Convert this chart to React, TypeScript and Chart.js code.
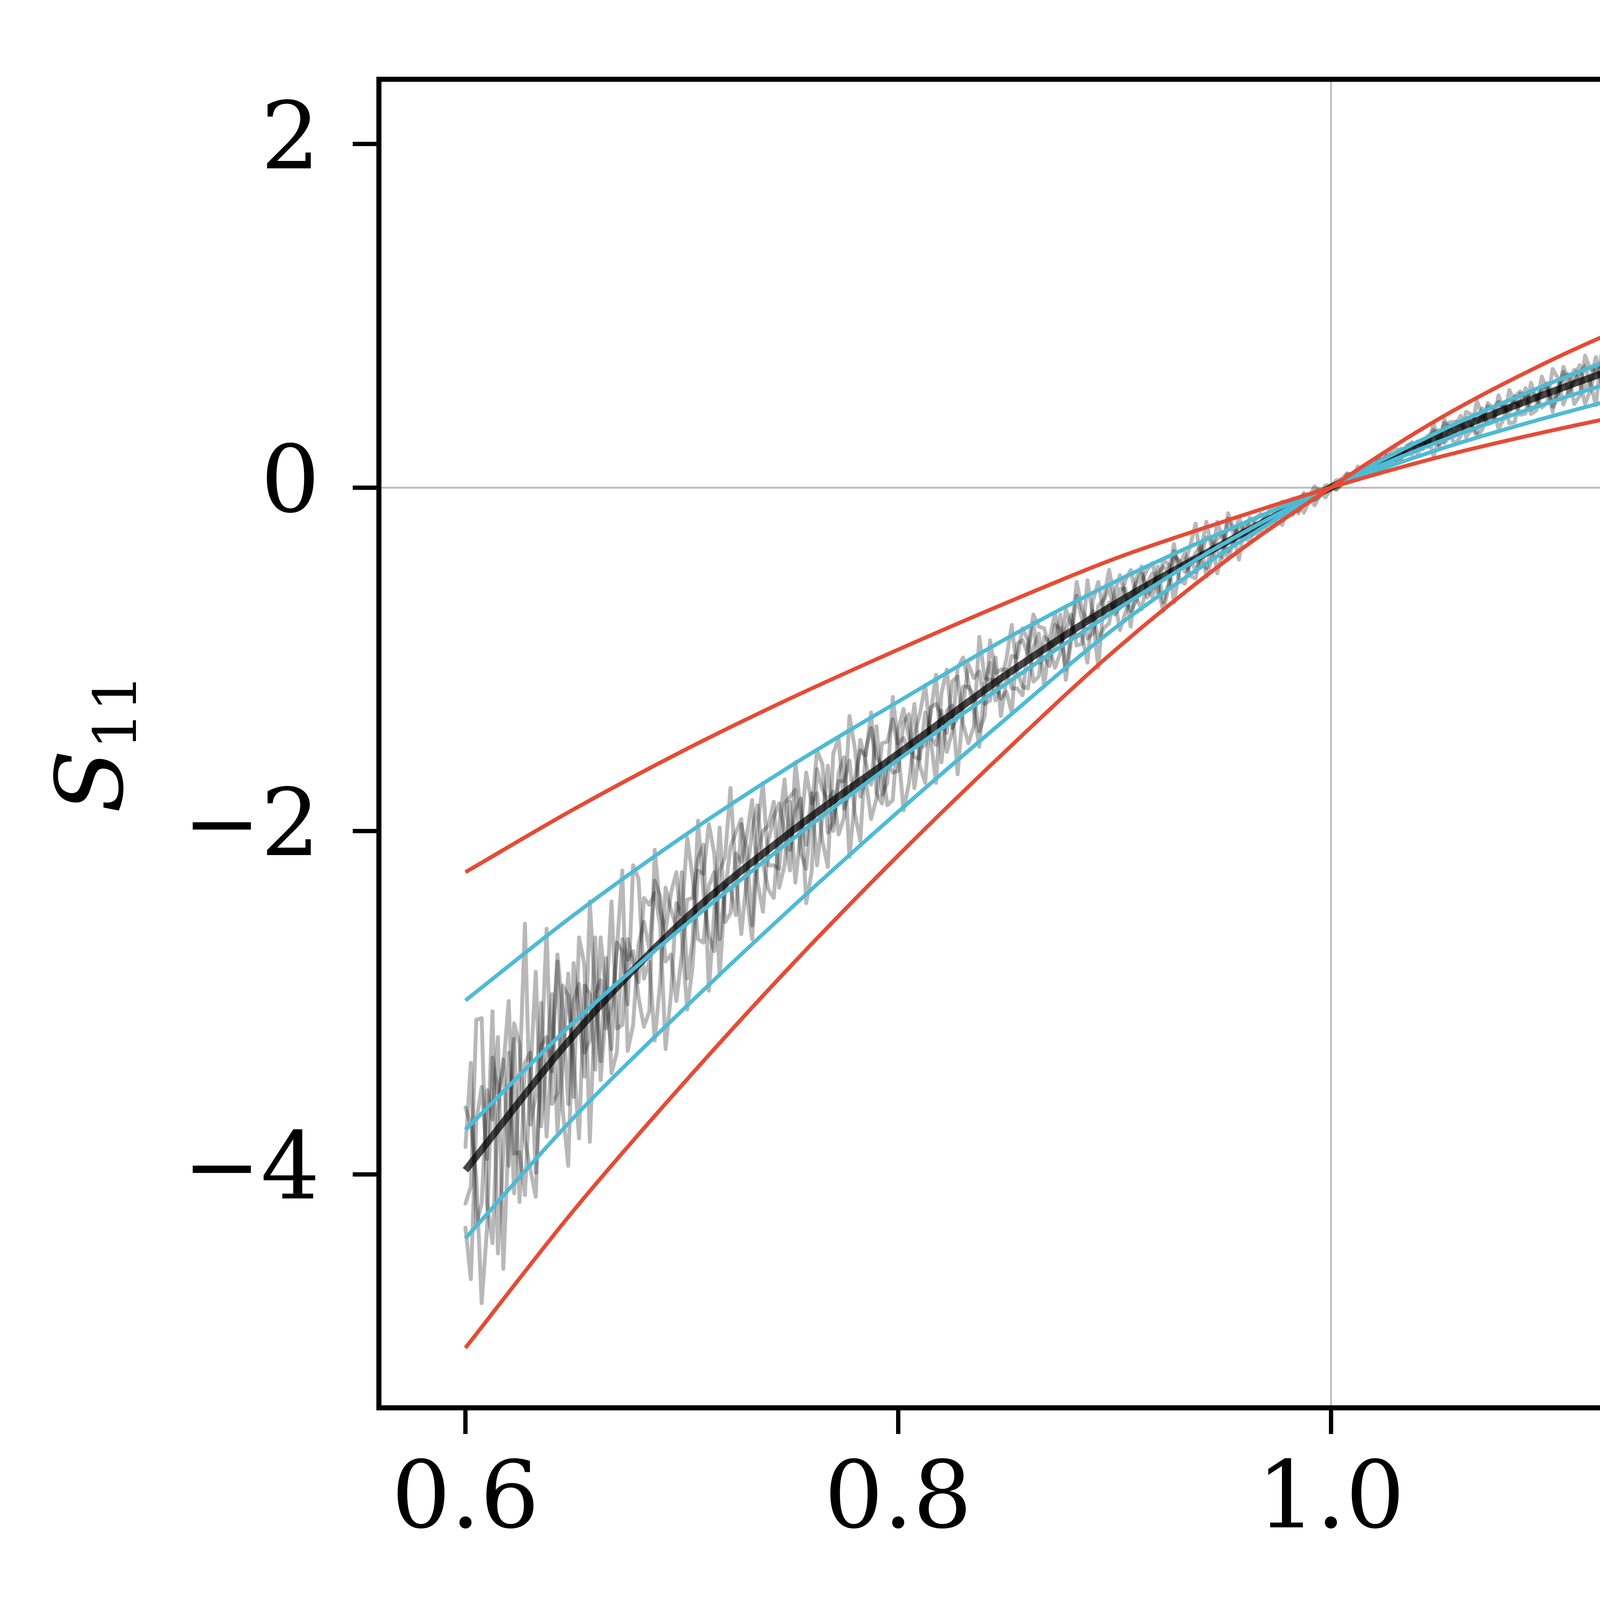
import React, { useEffect, useRef } from "react";
import { Chart, registerables } from "chart.js";

Chart.register(...registerables);

const W = 5975;
const H = 4458;

// Stretch ratio grid of the model curves
const LAMBDA_FIT = [0.6, 0.65, 0.7, 0.75, 0.8, 0.85, 0.9, 0.95, 1.0, 1.05, 1.1, 1.15, 1.2, 1.25, 1.3, 1.35, 1.4];

// Model curves
const RED_STIFF = [-5.01, -4.21, -3.481, -2.791, -2.143, -1.531, -0.95, -0.44, 0, 0.4, 0.73, 1.01, 1.26, 1.48, 1.68, 1.86, 2.027];
const RED_SOFT = [-2.24, -1.874, -1.537, -1.229, -0.944, -0.672, -0.415, -0.2, 0, 0.177, 0.326, 0.456, 0.567, 0.667, 0.759, 0.848, 0.93];
const CYAN_SOFT = [-2.987, -2.49, -2.037, -1.624, -1.247, -0.88, -0.55, -0.26, 0, 0.222, 0.408, 0.572, 0.712, 0.837, 0.952, 1.064, 1.167];
const CYAN_MID = [-3.739, -3.115, -2.565, -2.059, -1.585, -1.142, -0.72, -0.33, 0, 0.267, 0.491, 0.687, 0.856, 1.006, 1.145, 1.28, 1.403];
const CYAN_STIFF = [-4.372, -3.67, -3.047, -2.455, -1.888, -1.345, -0.82, -0.38, 0, 0.326, 0.6, 0.84, 1.046, 1.23, 1.399, 1.564, 1.715];
const MEAN_S11 = [-3.975, -3.19, -2.53, -2.01, -1.55, -1.09, -0.68, -0.33, 0, 0.298, 0.548, 0.767, 0.955, 1.123, 1.278, 1.428, 1.566];

// Noisy samples: stretch ratios 0.6000, 0.6050 ... 1.4000 and 0.6025, 0.6075 ... 1.3975
const LAMBDA_NOISE = Array.from({ length: 161 }, (_, i) => Math.round(6000 + i * 50) / 10000);
const LAMBDA_NOISE_MID = Array.from({ length: 160 }, (_, i) => Math.round(6025 + i * 50) / 10000);

const NOISE_A = [
  -3.84, -4.29, -3.51, -3.2, -3.75, -4.16, -3.29, -3.36, -3.59, -2.9,
  -3.33, -2.9, -3.39, -2.96, -2.65, -3.01, -2.28, -2.76, -2.88, -2.46,
  -2.24, -2.64, -2.36, -2.7, -2.15, -2.26, -2.28, -1.85, -2.34, -1.97,
  -2.11, -1.81, -2.24, -1.76, -1.77, -1.92, -1.52, -1.7, -1.81, -1.48,
  -1.52, -1.72, -1.32, -1.45, -1.3, -1.42, -0.99, -1.3, -1.14, -1.24,
  -1.0, -1.07, -1.17, -0.85, -0.88, -0.92, -0.74, -0.91, -0.75, -0.66,
  -0.74, -0.54, -0.64, -0.56, -0.62, -0.45, -0.48, -0.34, -0.44, -0.35,
  -0.41, -0.27, -0.225, -0.256, -0.188, -0.174, -0.088, -0.137, -0.058, -0.042,
  0.005, 0.045, 0.055, 0.075, 0.165, 0.157, 0.157, 0.234, 0.194, 0.303,
  0.29, 0.344, 0.418, 0.336, 0.413, 0.398, 0.496, 0.381, 0.53, 0.534,
  0.493, 0.636, 0.57, 0.665, 0.603, 0.769, 0.605, 0.704, 0.774, 0.69,
  0.851, 0.766, 0.834, 0.727, 0.924, 0.823, 1.058, 0.828, 0.943, 0.921,
  1.006, 0.87, 1.117, 0.947, 1.032, 1.117, 0.905, 1.121, 1.062, 1.211,
  1.047, 1.158, 1.295, 1.07, 1.256, 0.991, 1.257, 1.312, 1.182, 1.439,
  1.234, 1.326, 1.165, 1.433, 1.327, 1.422, 1.265, 1.659, 1.341, 1.436,
  1.578, 1.255, 1.519, 1.445, 1.597, 1.36, 1.732, 1.434, 1.591, 1.318,
  1.67,
];
const NOISE_E = [
  -3.35, -4.17, -3.68, -4.55, -3.21, -3.35, -3.99, -2.57, -3.53, -2.96,
  -3.79, -2.95, -2.62, -3.27, -2.7, -2.2, -2.86, -3.22, -2.33, -2.56,
  -2.86, -1.94, -2.61, -2.23, -1.75, -2.6, -1.99, -2.19, -2.39, -1.7,
  -1.88, -2.42, -1.64, -1.82, -2.02, -1.33, -1.8, -1.93, -1.49, -1.35,
  -1.88, -1.44, -1.15, -1.5, -1.54, -1.05, -1.14, -1.51, -1.02, -1.13,
  -0.8, -1.16, -0.93, -1.16, -0.73, -0.83, -0.92, -0.54, -1.05, -0.58,
  -0.7, -0.48, -0.71, -0.5, -0.42, -0.67, -0.44, -0.21, -0.47, -0.37,
  -0.18, -0.42, -0.214, -0.197, -0.224, -0.082, -0.134, -0.042, -0.104, -0.007,
  0.043, 0.029, 0.123, 0.069, 0.139, 0.19, 0.175, 0.264, 0.247, 0.18,
  0.376, 0.363, 0.292, 0.506, 0.382, 0.452, 0.373, 0.547, 0.551, 0.466,
  0.69, 0.483, 0.616, 0.708, 0.48, 0.722, 0.804, 0.675, 0.646, 0.965,
  0.751, 0.888, 0.647, 0.965, 0.893, 0.795, 1.138, 0.767, 0.98, 0.826,
  1.144, 0.936, 0.773, 1.105, 1.197, 0.914, 1.095, 1.292, 0.918, 1.2,
  1.012, 1.419, 1.163, 0.94, 1.33, 1.175, 1.446, 1.07, 1.358, 1.651,
  1.191, 1.054, 1.487, 1.388, 1.194, 1.646, 1.072, 1.467, 1.615, 1.295,
  1.582, 1.218, 1.841, 1.414, 1.302, 1.756, 1.539, 1.217, 1.714, 1.769,
];

const NOISE_B = [
  -4.31, -3.69, -3.91, -4.46, -3.29, -3.44, -3.71, -3.0, -3.26, -3.63,
  -2.99, -3.29, -2.62, -3.03, -3.15, -2.63, -2.88, -2.43, -2.55, -2.95,
  -2.49, -2.27, -2.65, -2.24, -2.36, -2.01, -2.37, -2.14, -1.97, -2.33,
  -1.83, -2.0, -1.84, -2.06, -1.55, -1.87, -1.69, -1.56, -1.78, -1.6,
  -1.65, -1.32, -1.52, -1.32, -1.6, -1.27, -1.28, -1.11, -1.26, -0.99,
  -1.12, -0.99, -0.89, -1.1, -0.9, -0.74, -0.89, -0.77, -0.85, -0.65,
  -0.65, -0.73, -0.56, -0.59, -0.46, -0.56, -0.455, -0.515, -0.36, -0.36,
  -0.265, -0.33, -0.264, -0.193, -0.237, -0.142, -0.144, -0.067, -0.077, -0.012,
  -0.005, 0.016, 0.074, 0.099, 0.084, 0.172, 0.229, 0.198, 0.248, 0.237,
  0.334, 0.3, 0.298, 0.424, 0.405, 0.454, 0.401, 0.496, 0.58, 0.479,
  0.563, 0.546, 0.66, 0.533, 0.687, 0.649, 0.719, 0.782, 0.606, 0.781,
  0.711, 0.857, 0.799, 0.874, 0.748, 0.991, 0.85, 0.916, 0.839, 1.009,
  0.93, 1.091, 0.913, 1.049, 1.108, 0.913, 1.086, 1.016, 1.204, 1.087,
  1.19, 1.016, 1.165, 1.26, 1.116, 1.381, 1.117, 1.272, 1.204, 1.329,
  1.399, 1.205, 1.363, 1.147, 1.373, 1.503, 1.345, 1.257, 1.49, 1.356,
  1.478, 1.567, 1.306, 1.558, 1.197, 1.522, 1.433, 1.707, 1.422, 1.695,
  1.514,
];
const NOISE_F = [
  -4.61, -3.49, -3.05, -3.87, -4.11, -2.54, -3.54, -3.78, -2.76, -3.95,
  -2.89, -3.22, -3.45, -2.41, -3.13, -2.77, -2.39, -2.36, -3.27, -2.42,
  -2.04, -2.63, -2.32, -2.84, -2.09, -1.93, -2.63, -2.0, -1.83, -2.2,
  -2.3, -1.66, -1.78, -2.21, -1.46, -1.78, -1.53, -1.31, -1.84, -1.66,
  -1.37, -1.75, -1.5, -1.09, -1.3, -1.67, -1.03, -1.07, -1.24, -1.33,
  -0.98, -0.82, -1.13, -0.87, -0.93, -1.12, -0.63, -0.88, -0.69, -0.48,
  -0.83, -0.63, -0.5, -0.64, -0.67, -0.37, -0.38, -0.53, -0.2, -0.3,
  -0.37, -0.17, -0.324, -0.152, -0.169, -0.182, -0.064, -0.147, -0.024, -0.027,
  -0.014, 0.065, 0.066, 0.141, 0.112, 0.211, 0.208, 0.192, 0.28, 0.317,
  0.259, 0.253, 0.441, 0.389, 0.473, 0.342, 0.568, 0.475, 0.454, 0.646,
  0.52, 0.643, 0.486, 0.768, 0.68, 0.592, 0.644, 0.845, 0.806, 0.575,
  0.907, 0.68, 0.881, 0.861, 0.659, 1.029, 0.8, 0.962, 1.071, 0.796,
  0.874, 1.116, 1.193, 0.85, 1.032, 1.154, 0.81, 1.157, 1.248, 1.047,
  1.335, 0.994, 1.078, 1.433, 0.99, 1.311, 1.242, 1.104, 1.545, 1.062,
  1.438, 1.358, 1.05, 1.521, 1.441, 1.19, 1.414, 1.638, 1.121, 1.547,
  1.351, 1.743, 1.295, 1.666, 1.827, 1.252, 1.455, 1.679, 1.336, 1.643,
];

const NOISE_C = [
  -3.61, -4.02, -4.31, -3.53, -2.99, -3.87, -3.43, -3.72, -2.95, -3.35,
  -3.55, -2.78, -2.95, -3.15, -2.69, -3.28, -2.66, -2.69, -2.38, -2.72,
  -2.72, -2.39, -2.08, -2.47, -2.53, -2.13, -2.03, -2.3, -2.06, -1.84,
  -2.23, -1.89, -1.78, -1.92, -2.0, -1.57, -1.81, -1.6, -1.39, -1.72,
  -1.49, -1.53, -1.62, -1.28, -1.33, -1.13, -1.38, -1.39, -1.11, -1.12,
  -1.19, -0.91, -0.97, -1.02, -1.04, -0.82, -0.85, -0.71, -0.72, -0.82,
  -0.615, -0.63, -0.66, -0.48, -0.57, -0.58, -0.425, -0.45, -0.34, -0.415,
  -0.3, -0.305, -0.306, -0.214, -0.157, -0.195, -0.13, -0.151, -0.053, -0.029,
  -0.009, 0.049, 0.065, 0.107, 0.102, 0.112, 0.199, 0.243, 0.254, 0.246,
  0.25, 0.38, 0.362, 0.356, 0.337, 0.462, 0.471, 0.531, 0.43, 0.509,
  0.588, 0.581, 0.534, 0.713, 0.621, 0.607, 0.755, 0.674, 0.753, 0.816,
  0.676, 0.829, 0.757, 0.916, 0.852, 0.783, 0.866, 1.02, 0.871, 0.969,
  0.862, 0.998, 0.955, 1.108, 0.904, 1.1, 1.152, 0.988, 1.109, 0.992,
  1.266, 1.139, 1.075, 1.23, 1.036, 1.251, 1.347, 1.162, 1.347, 1.131,
  1.311, 1.447, 1.242, 1.367, 1.465, 1.158, 1.437, 1.349, 1.513, 1.264,
  1.378, 1.555, 1.494, 1.32, 1.647, 1.56, 1.251, 1.616, 1.682, 1.487,
  1.605,
];
const NOISE_G = [
  -3.71, -4.75, -3.32, -3.38, -3.88, -4.12, -2.82, -3.33, -3.75, -2.83,
  -2.62, -3.81, -2.87, -3.02, -2.23, -3.13, -2.53, -2.29, -2.76, -2.99,
  -2.4, -2.16, -2.93, -1.98, -2.48, -2.18, -1.82, -2.47, -1.92, -2.01,
  -1.6, -2.08, -2.2, -1.62, -1.66, -2.15, -1.47, -1.73, -1.79, -1.22,
  -1.46, -1.26, -1.72, -1.26, -1.43, -1.1, -1.49, -0.87, -1.12, -1.23,
  -1.31, -0.89, -0.79, -0.99, -0.8, -1.06, -0.55, -0.78, -0.89, -0.79,
  -0.51, -0.72, -0.55, -0.44, -0.72, -0.4, -0.49, -0.38, -0.52, -0.2,
  -0.42, -0.22, -0.174, -0.242, -0.174, -0.217, -0.069, -0.062, 0.006, -0.057,
  0.007, 0.083, 0.045, 0.126, 0.169, 0.154, 0.16, 0.252, 0.262, 0.375,
  0.272, 0.383, 0.35, 0.298, 0.492, 0.498, 0.438, 0.423, 0.61, 0.566,
  0.44, 0.673, 0.646, 0.568, 0.76, 0.532, 0.694, 0.795, 0.866, 0.692,
  0.855, 0.641, 0.998, 0.731, 0.971, 0.912, 0.761, 0.858, 1.136, 0.976,
  0.769, 1.056, 1.118, 1.195, 0.897, 0.989, 1.215, 0.887, 1.143, 1.37,
  1.097, 0.96, 1.384, 1.246, 1.347, 0.937, 1.327, 1.427, 1.171, 1.1,
  1.514, 1.415, 1.259, 1.103, 1.669, 1.361, 1.224, 1.581, 1.501, 1.127,
  1.666, 1.491, 1.253, 1.75, 1.365, 1.588, 1.833, 1.343, 1.504, 1.748,
];

const NOISE_D = [
  -4.17, -3.1, -4.17, -3.63, -3.95, -3.24, -3.97, -3.25, -3.4, -3.04,
  -2.77, -3.43, -2.98, -2.74, -3.29, -2.75, -2.97, -3.05, -2.46, -2.36,
  -2.61, -2.79, -2.25, -2.13, -2.31, -2.49, -2.1, -1.98, -2.2, -2.22,
  -1.8, -2.13, -1.89, -1.61, -1.95, -1.71, -1.9, -1.53, -1.57, -1.85,
  -1.41, -1.46, -1.58, -1.46, -1.2, -1.4, -1.16, -1.21, -1.33, -1.08,
  -1.06, -1.17, -0.92, -0.81, -0.94, -0.96, -0.8, -0.86, -0.66, -0.74,
  -0.71, -0.59, -0.53, -0.64, -0.5, -0.49, -0.54, -0.41, -0.4, -0.305,
  -0.36, -0.24, -0.243, -0.27, -0.167, -0.114, -0.148, -0.091, -0.05, -0.05,
  0.011, 0.025, 0.079, 0.081, 0.129, 0.193, 0.154, 0.201, 0.269, 0.285,
  0.242, 0.332, 0.374, 0.364, 0.461, 0.382, 0.441, 0.526, 0.52, 0.449,
  0.608, 0.531, 0.624, 0.617, 0.567, 0.703, 0.701, 0.62, 0.802, 0.788,
  0.732, 0.71, 0.904, 0.839, 0.796, 0.903, 0.762, 0.972, 1.023, 0.873,
  1.04, 0.989, 0.93, 0.896, 1.159, 1.023, 1.095, 1.187, 0.986, 1.163,
  0.99, 1.234, 1.205, 1.11, 1.296, 1.211, 1.097, 1.262, 1.149, 1.417,
  1.212, 1.161, 1.44, 1.411, 1.235, 1.365, 1.541, 1.337, 1.283, 1.517,
  1.328, 1.517, 1.631, 1.458, 1.547, 1.71, 1.446, 1.356, 1.565, 1.643,
  1.41,
];
const NOISE_H = [
  -4.07, -3.09, -4.4, -3.33, -3.12, -3.8, -4.13, -3.2, -2.72, -3.59,
  -3.07, -2.41, -3.34, -3.41, -2.63, -2.7, -3.14, -2.11, -2.58, -2.24,
  -3.04, -2.23, -1.96, -2.63, -2.34, -1.96, -2.55, -1.72, -2.2, -1.84,
  -1.76, -2.22, -1.53, -2.01, -1.71, -1.59, -2.06, -1.4, -1.62, -1.82,
  -1.29, -1.57, -1.31, -1.72, -1.06, -1.34, -1.16, -1.42, -0.89, -1.06,
  -1.17, -1.21, -0.74, -0.82, -1.05, -0.71, -0.87, -1.02, -0.55, -0.67,
  -0.59, -0.81, -0.46, -0.58, -0.46, -0.33, -0.56, -0.49, -0.29, -0.5,
  -0.15, -0.27, -0.279, -0.272, -0.114, -0.127, -0.159, -0.032, -0.074, 0.013,
  -0.008, 0.077, 0.087, 0.066, 0.175, 0.148, 0.226, 0.234, 0.223, 0.336,
  0.396, 0.324, 0.402, 0.318, 0.369, 0.537, 0.464, 0.56, 0.428, 0.576,
  0.47, 0.703, 0.686, 0.488, 0.7, 0.772, 0.634, 0.605, 0.766, 0.874,
  0.582, 0.849, 0.959, 0.757, 0.698, 1.055, 0.969, 0.806, 0.928, 1.126,
  1.099, 0.771, 1.043, 0.985, 1.227, 1.139, 0.9, 1.202, 1.008, 0.911,
  1.301, 1.232, 0.891, 1.331, 1.143, 1.413, 1.089, 1.172, 1.494, 1.309,
  1.096, 1.605, 1.373, 1.198, 1.137, 1.513, 1.604, 1.22, 1.482, 1.631,
  1.162, 1.575, 1.463, 1.225, 1.722, 1.609, 1.371, 1.868, 1.609, 1.265,
];

const X_TICKS = [0.6, 0.8, 1.0, 1.2, 1.4];
const Y_TICKS = [-4, -2, 0, 2];

const RED = "#E64B35";
const CYAN = "#4DBBD5";
const SERIF = '"DejaVu Serif", "Liberation Serif", serif';

const toXY = (xs: number[], ys: number[]) => xs.map((x, i) => ({ x, y: ys[i] }));
// one noisy trace = samples on the main grid plus samples on the half-step grid, in x order
const trace = (main: number[], mid: number[]) =>
  [...toXY(LAMBDA_NOISE, main), ...toXY(LAMBDA_NOISE_MID, mid)].sort((p, q) => p.x - q.x);

const decorPlugin = {
  id: "decor",
  afterDraw(chart: any) {
    const { ctx, chartArea: a } = chart;
    ctx.save();
    ctx.strokeStyle = "#000";
    ctx.lineWidth = 13;
    ctx.lineJoin = "miter";
    ctx.strokeRect(a.left, a.top, a.right - a.left, a.bottom - a.top);

    ctx.fillStyle = "#000";
    ctx.textBaseline = "alphabetic";
    ctx.textAlign = "left";
    const f = 238;
    const fs = 152;

    // x-axis title: Stretch ratio λ₁
    const main = "Stretch ratio ";
    ctx.font = `${f}px ${SERIF}`;
    const w1 = ctx.measureText(main).width;
    ctx.font = `italic ${f}px ${SERIF}`;
    const w2 = ctx.measureText("λ").width;
    ctx.font = `${fs}px ${SERIF}`;
    const w3 = ctx.measureText("1").width;
    let x = (a.left + a.right) / 2 - (w1 + w2 + w3) / 2;
    const yb = 4278;
    ctx.font = `${f}px ${SERIF}`;
    ctx.fillText(main, x, yb);
    x += w1;
    ctx.font = `italic ${f}px ${SERIF}`;
    ctx.fillText("λ", x, yb);
    x += w2;
    ctx.font = `${fs}px ${SERIF}`;
    ctx.fillText("1", x, yb + 35);

    // y-axis title: S₁₁ (rotated)
    ctx.translate(313, (a.top + a.bottom) / 2);
    ctx.rotate(-Math.PI / 2);
    ctx.font = `italic ${f}px ${SERIF}`;
    const wS = ctx.measureText("S").width;
    ctx.font = `${fs}px ${SERIF}`;
    const w11 = ctx.measureText("11").width;
    const start = -(wS + w11) / 2;
    ctx.font = `italic ${f}px ${SERIF}`;
    ctx.fillText("S", start, 0);
    ctx.font = `${fs}px ${SERIF}`;
    ctx.fillText("11", start + wS, 35);
    ctx.restore();
  },
};

export default function App() {
  const ref = useRef<HTMLCanvasElement | null>(null);

  useEffect(() => {
    document.body.style.margin = "0";
    const canvas = ref.current;
    if (!canvas) return;

    const noiseStyle = {
      borderColor: "rgba(0,0,0,0.28)",
      borderWidth: 10,
      pointRadius: 0,
      tension: 0,
      borderJoinStyle: "round" as const,
      borderCapStyle: "round" as const,
      order: 3,
    };
    const curve = (data: number[], color: string, width: number, order: number) => ({
      data: toXY(LAMBDA_FIT, data),
      borderColor: color,
      borderWidth: width,
      pointRadius: 0,
      cubicInterpolationMode: "monotone" as const,
      order,
    });

    const chart = new Chart(canvas, {
      type: "line",
      data: {
        datasets: [
          curve(RED_STIFF, RED, 10, 0),
          curve(RED_SOFT, RED, 10, 0),
          curve(CYAN_SOFT, CYAN, 10, 0),
          curve(CYAN_MID, CYAN, 10, 0),
          curve(CYAN_STIFF, CYAN, 10, 0),
          curve(MEAN_S11, "rgba(0,0,0,0.72)", 18, 1),
          { ...noiseStyle, data: trace(NOISE_A, NOISE_E) },
          { ...noiseStyle, data: trace(NOISE_B, NOISE_F) },
          { ...noiseStyle, data: trace(NOISE_C, NOISE_G) },
          { ...noiseStyle, data: trace(NOISE_D, NOISE_H) },
        ],
      },
      options: {
        responsive: false,
        animation: false,
        devicePixelRatio: 1,
        events: [],
        layout: { padding: { left: 0, right: 131, top: 131, bottom: 0 } },
        plugins: { legend: { display: false }, tooltip: { enabled: false } },
        scales: {
          x: {
            type: "linear",
            min: 0.56,
            max: 1.44,
            afterBuildTicks: (s: any) => {
              s.ticks = X_TICKS.map((v) => ({ value: v }));
            },
            afterFit: (s: any) => {
              s.height = 854;
            },
            ticks: {
              autoSkip: false,
              maxRotation: 0,
              padding: 34,
              color: "#000",
              font: { family: SERIF, size: 238, lineHeight: 1.2 },
              callback: (v: any) => Number(v).toFixed(1),
            },
            grid: {
              color: (c: any) => (c.tick && Math.abs(c.tick.value - 1) < 1e-9 ? "#c0c0c0" : "rgba(0,0,0,0)"),
              lineWidth: 5,
              drawTicks: true,
              tickLength: 67,
              tickWidth: 11,
              tickColor: "#000",
            },
            border: { display: false },
          },
          y: {
            type: "linear",
            min: -5.359,
            max: 2.377,
            afterBuildTicks: (s: any) => {
              s.ticks = Y_TICKS.map((v) => ({ value: v }));
            },
            afterFit: (s: any) => {
              s.width = 970;
            },
            ticks: {
              autoSkip: false,
              padding: 84,
              color: "#000",
              font: { family: SERIF, size: 238, lineHeight: 1.0 },
              callback: (v: any) => (Number(v) < 0 ? "\u2212" + Math.abs(Number(v)) : String(v)),
            },
            grid: {
              color: (c: any) => (c.tick && Math.abs(c.tick.value) < 1e-9 ? "#c0c0c0" : "rgba(0,0,0,0)"),
              lineWidth: 5,
              drawTicks: true,
              tickLength: 67,
              tickWidth: 11,
              tickColor: "#000",
            },
            border: { display: false },
          },
        },
      },
      plugins: [decorPlugin],
    } as any);

    return () => chart.destroy();
  }, []);

  return (
    <div style={{ width: W, height: H, background: "#fff" }}>
      <canvas ref={ref} width={W} height={H} style={{ display: "block", width: W, height: H }} />
    </div>
  );
}
